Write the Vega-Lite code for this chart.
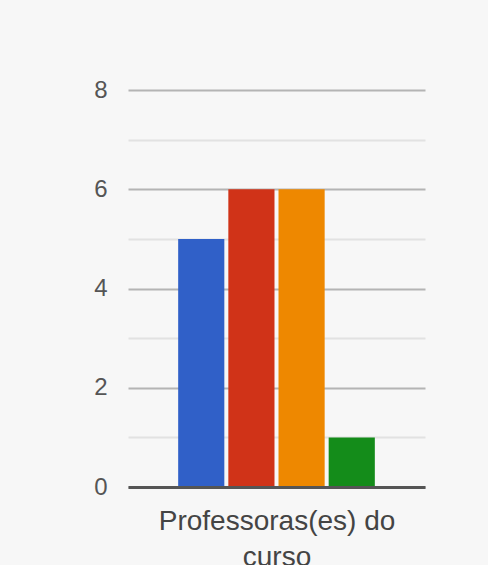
{
  "$schema": "https://vega.github.io/schema/vega-lite/v6.json",
  "autosize": {"type": "none"},
  "width": 297,
  "height": 397,
  "padding": {"left": 128, "top": 90, "right": 63, "bottom": 78},
  "background": "#f7f7f7",
  "config": {
    "view": {"stroke": null},
    "font": "Liberation Sans"
  },
  "data": {
    "values": [
      {"opcao": "A", "contagem": 5},
      {"opcao": "B", "contagem": 6},
      {"opcao": "C", "contagem": 6},
      {"opcao": "D", "contagem": 1}
    ]
  },
  "mark": {"type": "bar"},
  "encoding": {
    "x": {
      "field": "opcao",
      "type": "nominal",
      "sort": null,
      "scale": {"paddingInner": 0.08, "paddingOuter": 1.05},
      "axis": {
        "labels": false,
        "ticks": false,
        "domainColor": "#555555",
        "domainWidth": 3,
        "title": ["Professoras(es) do", "curso"],
        "titleFont": "Liberation Sans",
        "titleFontSize": 28,
        "titleFontWeight": "normal",
        "titleColor": "#444444",
        "titlePadding": 20,
        "titleLineHeight": 36,
        "zindex": 1
      }
    },
    "y": {
      "field": "contagem",
      "type": "quantitative",
      "scale": {"domain": [0, 8], "nice": false},
      "axis": {
        "values": [0, 1, 2, 3, 4, 5, 6, 7, 8],
        "labelExpr": "datum.value % 2 === 0 ? datum.label : ''",
        "domain": false,
        "ticks": false,
        "title": null,
        "labelFontSize": 24,
        "labelColor": "#555555",
        "labelPadding": 21,
        "gridWidth": 2,
        "gridColor": {"condition": {"test": "datum.value % 2 === 0", "value": "#b4b4b4"}, "value": "#e2e2e2"}
      }
    },
    "color": {
      "field": "opcao",
      "type": "nominal",
      "scale": {"domain": ["A", "B", "C", "D"], "range": ["#3060c8", "#d03318", "#ee8800", "#148c1a"]},
      "legend": null
    }
  }
}
